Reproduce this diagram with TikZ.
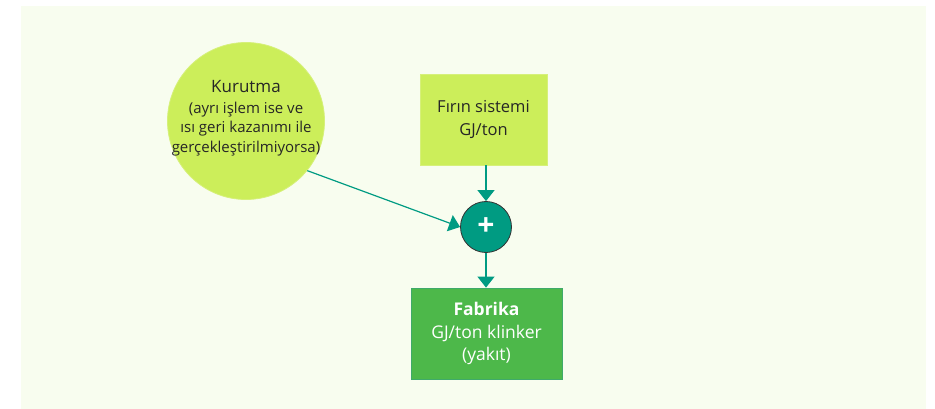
\documentclass[tikz,border=0pt]{standalone}
\usepackage{fontspec}
\setmainfont{Open Sans}
\usetikzlibrary{arrows.meta}
\definecolor{panel}{HTML}{F8FDEF}
\definecolor{lime}{HTML}{CCEE5A}
\definecolor{limeedge}{HTML}{D6F07A}
\definecolor{teal}{HTML}{009B82}
\definecolor{leaf}{HTML}{4DB84A}
\definecolor{leafedge}{HTML}{3FAA6A}
\tikzset{
  inputbox/.style={draw=limeedge, line width=0.8pt, fill=lime, align=center, text=black!85},
  sumnode/.style={circle, draw=black!80, line width=0.8pt, fill=teal, minimum size=51pt, inner sep=0pt, text=white, font=\bfseries\fontsize{30}{30}\selectfont},
  resultbox/.style={draw=leafedge, line width=0.8pt, fill=leaf, align=center, text=white, minimum width=151pt, minimum height=91pt, font=\fontsize{17.5}{22.5}\selectfont},
  flow/.style={draw=teal, line width=1.2pt, -{Triangle[length=11pt,width=17pt]}}
}
\begin{document}
\begin{tikzpicture}[x=1pt,y=-1pt]
  \useasboundingbox (0,0) rectangle (935,409);
  \fill[panel] (21,6) rectangle (926,409);

  % drying step: the disc and its label are set separately so the text
  % can run almost to the rim
  \node[inputbox, circle, minimum size=157pt, inner sep=0pt] (dry) at (246,121) {};
  \node[align=center, inner sep=0pt, text=black!85,
        font=\fontsize{15}{19.5}\selectfont] (drylabel) at (246,118)
    {{\fontsize{17}{20}\selectfont Kurutma}\\[1pt]
     (ayrı işlem ise ve\\
     ısı geri kazanımı ile\\
     gerçekleştirilmiyorsa)};

  \node[inputbox, minimum width=127pt, minimum height=91pt,
        font=\fontsize{16.5}{23}\selectfont] (kiln) at (483.5,119.5)
    {Fırın sistemi\\GJ/ton};

  \node[sumnode] (sum) at (486,227) {+};

  \node[resultbox] (plant) at (486.5,333.5)
    {\textbf{Fabrika}\\GJ/ton klinker\\(yakıt)};

  \draw[flow] (kiln.south -| sum) -- (sum.north);
  \draw[flow] (dry.-39) -- (sum.west);
  \draw[flow] (sum.south) -- (sum |- plant.north);
\end{tikzpicture}
\end{document}
